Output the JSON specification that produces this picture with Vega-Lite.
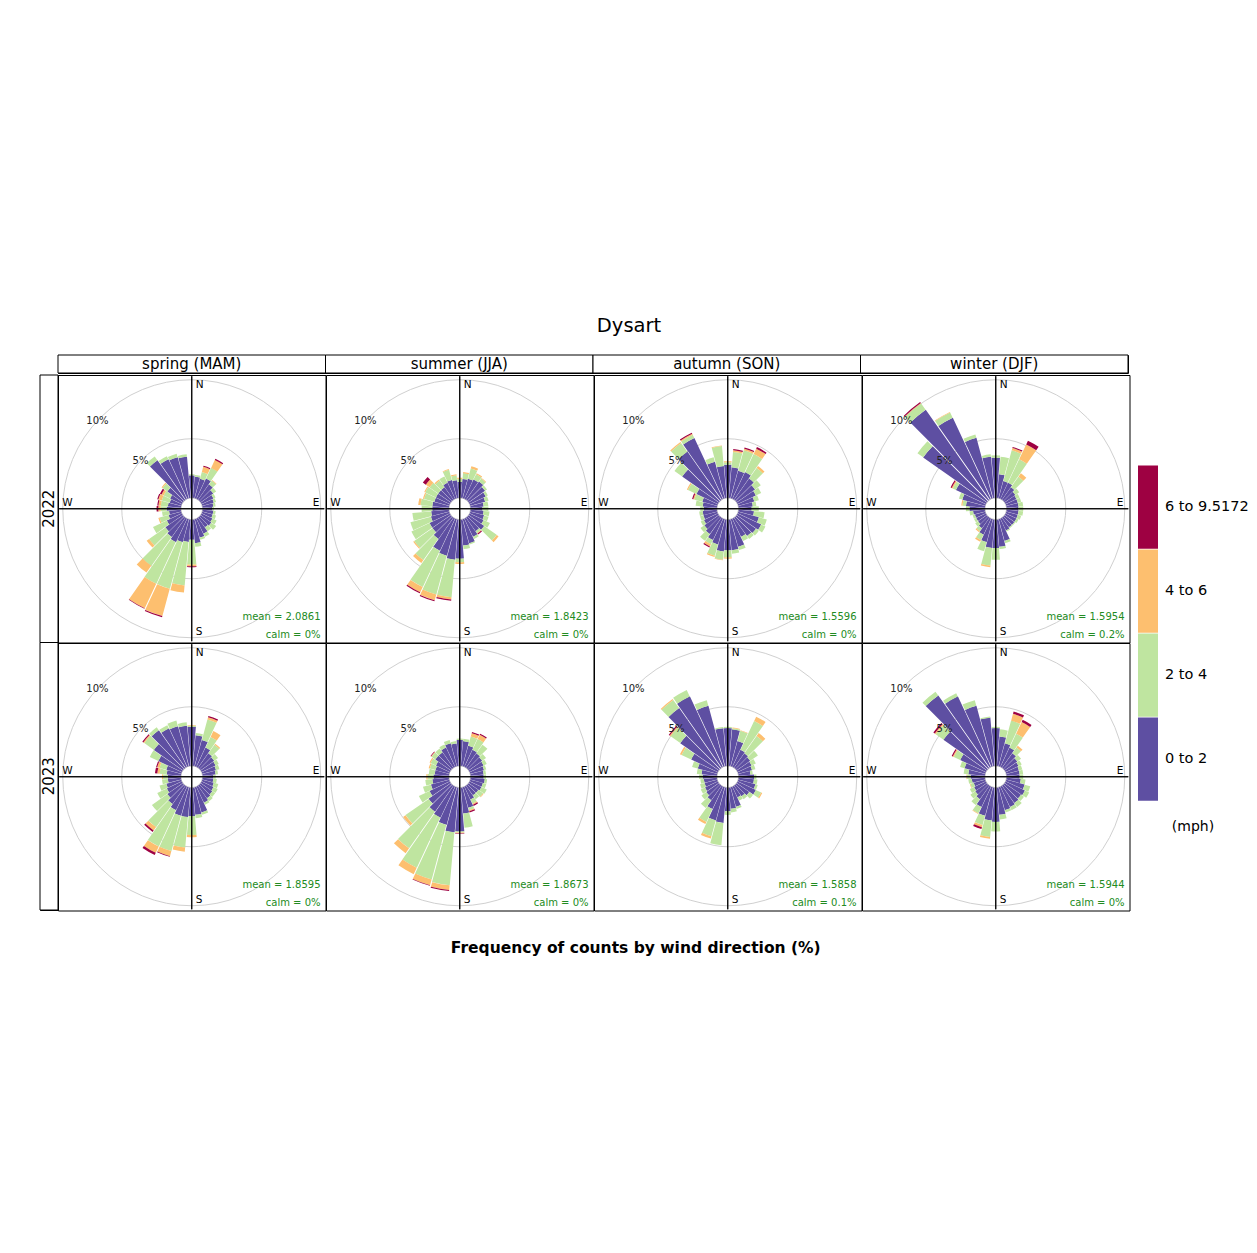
{
"$schema":"https://vega.github.io/schema/vega-lite/v6.json",
"padding":{"left":39,"top":315,"right":5,"bottom":5},
"background":"white",
"title":{"text":"Dysart","fontSize":19.5,"fontWeight":"normal","anchor":"middle","offset":18,"dx":-15,"color":"black"},
"config":{"font":"DejaVu Sans","view":{"stroke":"black","strokeWidth":1},"concat":{"spacing":0},"facet":{"spacing":0}},
"vconcat":[
{"bounds":"flush","hconcat":[
 {"width":18,"height":18,"data":{"values":[{"t":""}]},"mark":{"type":"text"},"encoding":{"text":{"field":"t"}},"view":{"stroke":null}},
 {"width":1070,"height":18,
  "data":{"values":[{"s":"spring (MAM)"},{"s":"summer (JJA)"},{"s":"autumn (SON)"},{"s":"winter (DJF)"}]},
  "layer":[
   {"mark":{"type":"rect","fill":"white","stroke":"black","strokeWidth":1},
    "encoding":{"x":{"field":"s","type":"nominal","sort":["spring (MAM)","summer (JJA)","autumn (SON)","winter (DJF)"],"axis":null,"scale":{"paddingInner":0,"paddingOuter":0}}}},
   {"mark":{"type":"text","fontSize":15,"color":"black","baseline":"middle"},
    "encoding":{"x":{"field":"s","type":"nominal","sort":["spring (MAM)","summer (JJA)","autumn (SON)","winter (DJF)"],"axis":null},"text":{"field":"s"}}}
  ]}
]},
{"bounds":"flush","hconcat":[
 {"width":18,"height":535,
  "data":{"values":[{"yr":"2022"},{"yr":"2023"}]},
  "layer":[
   {"mark":{"type":"rect","fill":"white","stroke":"black","strokeWidth":1},
    "encoding":{"y":{"field":"yr","type":"nominal","axis":null,"scale":{"paddingInner":0,"paddingOuter":0}}}},
   {"mark":{"type":"text","fontSize":15,"angle":270,"color":"black","baseline":"middle"},
    "encoding":{"y":{"field":"yr","type":"nominal","axis":null},"text":{"field":"yr"}}}
  ]},
 {"data":{"values":[
{"yr":"2022","s":"spring","mn":"mean = 2.0861","cm":"calm = 0%"},
{"yr":"2022","s":"summer","mn":"mean = 1.8423","cm":"calm = 0%"},
{"yr":"2022","s":"autumn","mn":"mean = 1.5596","cm":"calm = 0%"},
{"yr":"2022","s":"winter","mn":"mean = 1.5954","cm":"calm = 0.2%"},
{"yr":"2023","s":"spring","mn":"mean = 1.8595","cm":"calm = 0%"},
{"yr":"2023","s":"summer","mn":"mean = 1.8673","cm":"calm = 0%"},
{"yr":"2023","s":"autumn","mn":"mean = 1.5858","cm":"calm = 0.1%"},
{"yr":"2023","s":"winter","mn":"mean = 1.5944","cm":"calm = 0%"},
{"yr":"2022","s":"spring","dir":10,"a":1.8,"b":0.15,"c":0,"d":0},
{"yr":"2022","s":"spring","dir":20,"a":1.7,"b":0.6,"c":0.45,"d":0.1},
{"yr":"2022","s":"spring","dir":30,"a":1.9,"b":1.0,"c":0.75,"d":0.1},
{"yr":"2022","s":"spring","dir":40,"a":1.6,"b":0.4,"c":0.05,"d":0},
{"yr":"2022","s":"spring","dir":50,"a":1.3,"b":0.3,"c":0,"d":0},
{"yr":"2022","s":"spring","dir":60,"a":1.1,"b":0.2,"c":0,"d":0},
{"yr":"2022","s":"spring","dir":70,"a":1.0,"b":0.2,"c":0,"d":0},
{"yr":"2022","s":"spring","dir":80,"a":0.9,"b":0.2,"c":0,"d":0},
{"yr":"2022","s":"spring","dir":90,"a":0.8,"b":0.15,"c":0,"d":0},
{"yr":"2022","s":"spring","dir":100,"a":0.9,"b":0.2,"c":0,"d":0},
{"yr":"2022","s":"spring","dir":110,"a":0.9,"b":0.3,"c":0,"d":0},
{"yr":"2022","s":"spring","dir":120,"a":1.0,"b":0.4,"c":0,"d":0},
{"yr":"2022","s":"spring","dir":130,"a":1.1,"b":0.5,"c":0,"d":0},
{"yr":"2022","s":"spring","dir":140,"a":1.0,"b":0.4,"c":0,"d":0},
{"yr":"2022","s":"spring","dir":150,"a":1.4,"b":0.3,"c":0,"d":0},
{"yr":"2022","s":"spring","dir":160,"a":1.6,"b":0.2,"c":0,"d":0},
{"yr":"2022","s":"spring","dir":170,"a":2.0,"b":0.3,"c":0,"d":0},
{"yr":"2022","s":"spring","dir":180,"a":1.7,"b":2.1,"c":0.15,"d":0.08},
{"yr":"2022","s":"spring","dir":190,"a":1.9,"b":3.7,"c":0.6,"d":0},
{"yr":"2022","s":"spring","dir":200,"a":2.0,"b":4.1,"c":2.4,"d":0.1},
{"yr":"2022","s":"spring","dir":210,"a":2.2,"b":3.9,"c":2.3,"d":0.05},
{"yr":"2022","s":"spring","dir":220,"a":2.0,"b":3.0,"c":0.7,"d":0},
{"yr":"2022","s":"spring","dir":230,"a":1.8,"b":1.7,"c":0.25,"d":0},
{"yr":"2022","s":"spring","dir":240,"a":1.4,"b":1.3,"c":0,"d":0},
{"yr":"2022","s":"spring","dir":250,"a":1.1,"b":0.8,"c":0.1,"d":0},
{"yr":"2022","s":"spring","dir":260,"a":1.0,"b":0.6,"c":0,"d":0},
{"yr":"2022","s":"spring","dir":270,"a":1.2,"b":0.5,"c":0.2,"d":0.15},
{"yr":"2022","s":"spring","dir":280,"a":1.1,"b":0.6,"c":0.2,"d":0.1},
{"yr":"2022","s":"spring","dir":290,"a":1.0,"b":0.7,"c":0.3,"d":0.1},
{"yr":"2022","s":"spring","dir":300,"a":1.1,"b":0.6,"c":0.2,"d":0.15},
{"yr":"2022","s":"spring","dir":310,"a":1.6,"b":0.5,"c":0.1,"d":0},
{"yr":"2022","s":"spring","dir":320,"a":4.1,"b":0.4,"c":0,"d":0},
{"yr":"2022","s":"spring","dir":330,"a":3.7,"b":0.3,"c":0,"d":0},
{"yr":"2022","s":"spring","dir":340,"a":3.6,"b":0.3,"c":0,"d":0},
{"yr":"2022","s":"spring","dir":350,"a":3.5,"b":0.2,"c":0,"d":0},
{"yr":"2022","s":"spring","dir":360,"a":1.9,"b":0.1,"c":0,"d":0},
{"yr":"2022","s":"summer","dir":10,"a":1.6,"b":0.5,"c":0.1,"d":0},
{"yr":"2022","s":"summer","dir":20,"a":1.7,"b":0.9,"c":0.2,"d":0},
{"yr":"2022","s":"summer","dir":30,"a":1.8,"b":0.5,"c":0.1,"d":0},
{"yr":"2022","s":"summer","dir":40,"a":1.9,"b":0.3,"c":0.05,"d":0},
{"yr":"2022","s":"summer","dir":50,"a":1.7,"b":0.2,"c":0,"d":0},
{"yr":"2022","s":"summer","dir":60,"a":1.5,"b":0.2,"c":0,"d":0},
{"yr":"2022","s":"summer","dir":70,"a":1.3,"b":0.3,"c":0,"d":0},
{"yr":"2022","s":"summer","dir":80,"a":1.1,"b":0.4,"c":0,"d":0},
{"yr":"2022","s":"summer","dir":90,"a":1.0,"b":0.5,"c":0,"d":0},
{"yr":"2022","s":"summer","dir":100,"a":1.1,"b":0.5,"c":0,"d":0},
{"yr":"2022","s":"summer","dir":110,"a":1.2,"b":0.4,"c":0,"d":0},
{"yr":"2022","s":"summer","dir":120,"a":1.3,"b":0.6,"c":0,"d":0},
{"yr":"2022","s":"summer","dir":130,"a":1.6,"b":1.3,"c":0.2,"d":0},
{"yr":"2022","s":"summer","dir":140,"a":1.4,"b":0.2,"c":0.05,"d":0.1},
{"yr":"2022","s":"summer","dir":150,"a":1.7,"b":0.2,"c":0,"d":0},
{"yr":"2022","s":"summer","dir":160,"a":2.1,"b":0.1,"c":0,"d":0},
{"yr":"2022","s":"summer","dir":170,"a":2.2,"b":0.3,"c":0,"d":0},
{"yr":"2022","s":"summer","dir":180,"a":3.3,"b":0.3,"c":0.15,"d":0},
{"yr":"2022","s":"summer","dir":190,"a":3.4,"b":3.2,"c":0.2,"d":0.1},
{"yr":"2022","s":"summer","dir":200,"a":3.2,"b":3.4,"c":0.5,"d":0.1},
{"yr":"2022","s":"summer","dir":210,"a":3.0,"b":3.4,"c":0.5,"d":0.1},
{"yr":"2022","s":"summer","dir":220,"a":2.2,"b":2.2,"c":0.3,"d":0},
{"yr":"2022","s":"summer","dir":230,"a":1.9,"b":1.9,"c":0.1,"d":0},
{"yr":"2022","s":"summer","dir":240,"a":1.9,"b":1.7,"c":0,"d":0},
{"yr":"2022","s":"summer","dir":250,"a":1.6,"b":1.8,"c":0,"d":0},
{"yr":"2022","s":"summer","dir":260,"a":1.5,"b":1.6,"c":0,"d":0},
{"yr":"2022","s":"summer","dir":270,"a":1.4,"b":0.9,"c":0,"d":0},
{"yr":"2022","s":"summer","dir":280,"a":1.4,"b":1.0,"c":0.2,"d":0},
{"yr":"2022","s":"summer","dir":290,"a":1.3,"b":0.9,"c":0.1,"d":0},
{"yr":"2022","s":"summer","dir":300,"a":1.3,"b":1.0,"c":0.1,"d":0},
{"yr":"2022","s":"summer","dir":310,"a":1.3,"b":0.9,"c":0.4,"d":0.3},
{"yr":"2022","s":"summer","dir":320,"a":1.3,"b":0.7,"c":0.1,"d":0},
{"yr":"2022","s":"summer","dir":330,"a":1.5,"b":0.6,"c":0,"d":0},
{"yr":"2022","s":"summer","dir":340,"a":1.6,"b":0.9,"c":0.05,"d":0},
{"yr":"2022","s":"summer","dir":350,"a":1.5,"b":0.4,"c":0.1,"d":0},
{"yr":"2022","s":"summer","dir":360,"a":1.35,"b":0.25,"c":0.1,"d":0},
{"yr":"2022","s":"autumn","dir":10,"a":2.6,"b":1.3,"c":0.15,"d":0.1},
{"yr":"2022","s":"autumn","dir":20,"a":2.4,"b":1.8,"c":0.15,"d":0.1},
{"yr":"2022","s":"autumn","dir":30,"a":2.5,"b":1.7,"c":0.5,"d":0.15},
{"yr":"2022","s":"autumn","dir":40,"a":2.2,"b":1.1,"c":0.2,"d":0},
{"yr":"2022","s":"autumn","dir":50,"a":1.9,"b":0.6,"c":0,"d":0},
{"yr":"2022","s":"autumn","dir":60,"a":1.7,"b":0.5,"c":0,"d":0},
{"yr":"2022","s":"autumn","dir":70,"a":1.4,"b":0.4,"c":0,"d":0},
{"yr":"2022","s":"autumn","dir":80,"a":1.2,"b":0.3,"c":0,"d":0},
{"yr":"2022","s":"autumn","dir":90,"a":1.1,"b":0.6,"c":0,"d":0},
{"yr":"2022","s":"autumn","dir":100,"a":1.3,"b":0.9,"c":0,"d":0},
{"yr":"2022","s":"autumn","dir":110,"a":1.8,"b":0.7,"c":0,"d":0},
{"yr":"2022","s":"autumn","dir":120,"a":2.2,"b":0.4,"c":0,"d":0},
{"yr":"2022","s":"autumn","dir":130,"a":2.0,"b":0.3,"c":0,"d":0},
{"yr":"2022","s":"autumn","dir":140,"a":1.9,"b":0.3,"c":0,"d":0},
{"yr":"2022","s":"autumn","dir":150,"a":1.7,"b":0.4,"c":0,"d":0},
{"yr":"2022","s":"autumn","dir":160,"a":2.4,"b":0.3,"c":0,"d":0},
{"yr":"2022","s":"autumn","dir":170,"a":2.6,"b":0.3,"c":0,"d":0},
{"yr":"2022","s":"autumn","dir":180,"a":2.6,"b":0.6,"c":0.1,"d":0},
{"yr":"2022","s":"autumn","dir":190,"a":2.7,"b":0.7,"c":0.05,"d":0},
{"yr":"2022","s":"autumn","dir":200,"a":2.2,"b":1.0,"c":0.1,"d":0},
{"yr":"2022","s":"autumn","dir":210,"a":2.0,"b":0.4,"c":0.2,"d":0.1},
{"yr":"2022","s":"autumn","dir":220,"a":1.7,"b":0.7,"c":0,"d":0},
{"yr":"2022","s":"autumn","dir":230,"a":1.5,"b":0.4,"c":0,"d":0},
{"yr":"2022","s":"autumn","dir":240,"a":1.3,"b":0.3,"c":0,"d":0},
{"yr":"2022","s":"autumn","dir":250,"a":1.2,"b":0.3,"c":0,"d":0},
{"yr":"2022","s":"autumn","dir":260,"a":1.2,"b":0.3,"c":0,"d":0},
{"yr":"2022","s":"autumn","dir":270,"a":1.1,"b":0.3,"c":0,"d":0},
{"yr":"2022","s":"autumn","dir":280,"a":1.2,"b":0.6,"c":0,"d":0},
{"yr":"2022","s":"autumn","dir":290,"a":1.3,"b":0.7,"c":0.1,"d":0.1},
{"yr":"2022","s":"autumn","dir":300,"a":2.0,"b":0.8,"c":0.1,"d":0},
{"yr":"2022","s":"autumn","dir":310,"a":3.8,"b":0.8,"c":0,"d":0},
{"yr":"2022","s":"autumn","dir":320,"a":5.0,"b":0.9,"c":0.1,"d":0},
{"yr":"2022","s":"autumn","dir":330,"a":5.7,"b":0.3,"c":0.1,"d":0.1},
{"yr":"2022","s":"autumn","dir":340,"a":3.2,"b":0.4,"c":0,"d":0},
{"yr":"2022","s":"autumn","dir":350,"a":2.7,"b":1.7,"c":0.05,"d":0},
{"yr":"2022","s":"autumn","dir":360,"a":2.8,"b":0.2,"c":0.1,"d":0},
{"yr":"2022","s":"winter","dir":10,"a":2.0,"b":1.5,"c":0,"d":0},
{"yr":"2022","s":"winter","dir":20,"a":1.5,"b":2.7,"c":0.2,"d":0.1},
{"yr":"2022","s":"winter","dir":30,"a":1.5,"b":2.2,"c":1.4,"d":0.35},
{"yr":"2022","s":"winter","dir":40,"a":1.3,"b":1.1,"c":0.35,"d":0},
{"yr":"2022","s":"winter","dir":50,"a":1.1,"b":0.4,"c":0,"d":0},
{"yr":"2022","s":"winter","dir":60,"a":1.0,"b":0.3,"c":0,"d":0},
{"yr":"2022","s":"winter","dir":70,"a":1.0,"b":0.3,"c":0,"d":0},
{"yr":"2022","s":"winter","dir":80,"a":1.0,"b":0.4,"c":0,"d":0},
{"yr":"2022","s":"winter","dir":90,"a":1.0,"b":0.4,"c":0,"d":0},
{"yr":"2022","s":"winter","dir":100,"a":1.0,"b":0.4,"c":0,"d":0},
{"yr":"2022","s":"winter","dir":110,"a":1.0,"b":0.3,"c":0,"d":0},
{"yr":"2022","s":"winter","dir":120,"a":1.0,"b":0.2,"c":0,"d":0},
{"yr":"2022","s":"winter","dir":130,"a":1.0,"b":0.1,"c":0,"d":0},
{"yr":"2022","s":"winter","dir":140,"a":1.0,"b":0.1,"c":0,"d":0},
{"yr":"2022","s":"winter","dir":150,"a":1.1,"b":0.1,"c":0,"d":0},
{"yr":"2022","s":"winter","dir":160,"a":1.9,"b":0.2,"c":0,"d":0},
{"yr":"2022","s":"winter","dir":170,"a":2.3,"b":0.2,"c":0,"d":0},
{"yr":"2022","s":"winter","dir":180,"a":2.4,"b":1.0,"c":0,"d":0},
{"yr":"2022","s":"winter","dir":190,"a":2.4,"b":1.5,"c":0.15,"d":0},
{"yr":"2022","s":"winter","dir":200,"a":2.0,"b":0.8,"c":0,"d":0},
{"yr":"2022","s":"winter","dir":210,"a":1.5,"b":0.5,"c":0.15,"d":0},
{"yr":"2022","s":"winter","dir":220,"a":1.1,"b":0.3,"c":0.1,"d":0},
{"yr":"2022","s":"winter","dir":230,"a":0.9,"b":0.3,"c":0,"d":0},
{"yr":"2022","s":"winter","dir":240,"a":0.9,"b":0.2,"c":0,"d":0},
{"yr":"2022","s":"winter","dir":250,"a":0.9,"b":0.2,"c":0,"d":0},
{"yr":"2022","s":"winter","dir":260,"a":1.0,"b":0.3,"c":0,"d":0},
{"yr":"2022","s":"winter","dir":270,"a":1.3,"b":0.3,"c":0,"d":0},
{"yr":"2022","s":"winter","dir":280,"a":1.6,"b":0.3,"c":0.1,"d":0},
{"yr":"2022","s":"winter","dir":290,"a":2.0,"b":0.3,"c":0,"d":0},
{"yr":"2022","s":"winter","dir":300,"a":2.8,"b":0.3,"c":0.1,"d":0.1},
{"yr":"2022","s":"winter","dir":310,"a":6.6,"b":0.6,"c":0,"d":0},
{"yr":"2022","s":"winter","dir":320,"a":9.35,"b":0.65,"c":0.05,"d":0.1},
{"yr":"2022","s":"winter","dir":330,"a":7.6,"b":0.5,"c":0.05,"d":0},
{"yr":"2022","s":"winter","dir":340,"a":5.3,"b":0.3,"c":0,"d":0},
{"yr":"2022","s":"winter","dir":350,"a":3.5,"b":0.2,"c":0,"d":0},
{"yr":"2022","s":"winter","dir":360,"a":3.4,"b":0.2,"c":0,"d":0},
{"yr":"2023","s":"spring","dir":10,"a":2.6,"b":0.2,"c":0,"d":0},
{"yr":"2023","s":"spring","dir":20,"a":2.3,"b":1.8,"c":0.2,"d":0.1},
{"yr":"2023","s":"spring","dir":30,"a":1.8,"b":1.0,"c":0.55,"d":0},
{"yr":"2023","s":"spring","dir":40,"a":1.5,"b":0.9,"c":0.1,"d":0},
{"yr":"2023","s":"spring","dir":50,"a":1.4,"b":0.4,"c":0,"d":0},
{"yr":"2023","s":"spring","dir":60,"a":1.3,"b":0.3,"c":0,"d":0},
{"yr":"2023","s":"spring","dir":70,"a":1.2,"b":0.3,"c":0,"d":0},
{"yr":"2023","s":"spring","dir":80,"a":1.1,"b":0.2,"c":0,"d":0},
{"yr":"2023","s":"spring","dir":90,"a":0.9,"b":0.2,"c":0,"d":0},
{"yr":"2023","s":"spring","dir":100,"a":0.9,"b":0.3,"c":0,"d":0},
{"yr":"2023","s":"spring","dir":110,"a":1.0,"b":0.4,"c":0,"d":0},
{"yr":"2023","s":"spring","dir":120,"a":1.1,"b":0.4,"c":0,"d":0},
{"yr":"2023","s":"spring","dir":130,"a":1.2,"b":0.3,"c":0,"d":0},
{"yr":"2023","s":"spring","dir":140,"a":1.3,"b":0.3,"c":0,"d":0},
{"yr":"2023","s":"spring","dir":150,"a":1.5,"b":0.2,"c":0,"d":0},
{"yr":"2023","s":"spring","dir":160,"a":2.2,"b":0.2,"c":0,"d":0},
{"yr":"2023","s":"spring","dir":170,"a":2.3,"b":0.3,"c":0,"d":0},
{"yr":"2023","s":"spring","dir":180,"a":2.4,"b":1.6,"c":0.2,"d":0},
{"yr":"2023","s":"spring","dir":190,"a":2.5,"b":2.6,"c":0.35,"d":0},
{"yr":"2023","s":"spring","dir":200,"a":2.5,"b":3.1,"c":0.45,"d":0.05},
{"yr":"2023","s":"spring","dir":210,"a":2.2,"b":3.4,"c":0.6,"d":0.2},
{"yr":"2023","s":"spring","dir":220,"a":1.9,"b":2.4,"c":0.35,"d":0.15},
{"yr":"2023","s":"spring","dir":230,"a":1.6,"b":1.6,"c":0,"d":0},
{"yr":"2023","s":"spring","dir":240,"a":1.4,"b":0.9,"c":0,"d":0},
{"yr":"2023","s":"spring","dir":250,"a":1.3,"b":0.6,"c":0,"d":0},
{"yr":"2023","s":"spring","dir":260,"a":1.1,"b":0.5,"c":0,"d":0},
{"yr":"2023","s":"spring","dir":270,"a":1.1,"b":0.4,"c":0.1,"d":0},
{"yr":"2023","s":"spring","dir":280,"a":1.2,"b":0.6,"c":0.2,"d":0.2},
{"yr":"2023","s":"spring","dir":290,"a":1.3,"b":0.6,"c":0.2,"d":0.1},
{"yr":"2023","s":"spring","dir":300,"a":2.2,"b":0.8,"c":0,"d":0},
{"yr":"2023","s":"spring","dir":310,"a":3.0,"b":1.0,"c":0.1,"d":0.1},
{"yr":"2023","s":"spring","dir":320,"a":3.9,"b":0.3,"c":0,"d":0},
{"yr":"2023","s":"spring","dir":330,"a":3.6,"b":0.3,"c":0,"d":0},
{"yr":"2023","s":"spring","dir":340,"a":3.5,"b":0.5,"c":0,"d":0},
{"yr":"2023","s":"spring","dir":350,"a":3.4,"b":0.3,"c":0,"d":0},
{"yr":"2023","s":"spring","dir":360,"a":3.3,"b":0.1,"c":0.05,"d":0},
{"yr":"2023","s":"summer","dir":10,"a":2.1,"b":0.2,"c":0,"d":0},
{"yr":"2023","s":"summer","dir":20,"a":1.8,"b":0.8,"c":0.3,"d":0.1},
{"yr":"2023","s":"summer","dir":30,"a":1.6,"b":1.0,"c":0.4,"d":0.1},
{"yr":"2023","s":"summer","dir":40,"a":1.5,"b":0.9,"c":0,"d":0},
{"yr":"2023","s":"summer","dir":50,"a":1.4,"b":0.4,"c":0,"d":0},
{"yr":"2023","s":"summer","dir":60,"a":1.3,"b":0.3,"c":0,"d":0},
{"yr":"2023","s":"summer","dir":70,"a":1.2,"b":0.2,"c":0,"d":0},
{"yr":"2023","s":"summer","dir":80,"a":1.1,"b":0.2,"c":0,"d":0},
{"yr":"2023","s":"summer","dir":90,"a":1.1,"b":0.2,"c":0,"d":0},
{"yr":"2023","s":"summer","dir":100,"a":1.2,"b":0.2,"c":0,"d":0},
{"yr":"2023","s":"summer","dir":110,"a":1.1,"b":0.3,"c":0,"d":0},
{"yr":"2023","s":"summer","dir":120,"a":1.1,"b":0.5,"c":0,"d":0},
{"yr":"2023","s":"summer","dir":130,"a":1.0,"b":0.5,"c":0.05,"d":0},
{"yr":"2023","s":"summer","dir":140,"a":1.0,"b":0.4,"c":0,"d":0},
{"yr":"2023","s":"summer","dir":150,"a":1.2,"b":0.4,"c":0.1,"d":0.1},
{"yr":"2023","s":"summer","dir":160,"a":1.8,"b":0.2,"c":0.1,"d":0.1},
{"yr":"2023","s":"summer","dir":170,"a":2.2,"b":1.2,"c":0,"d":0},
{"yr":"2023","s":"summer","dir":180,"a":3.7,"b":0.1,"c":0.05,"d":0.05},
{"yr":"2023","s":"summer","dir":190,"a":3.8,"b":4.5,"c":0.4,"d":0.1},
{"yr":"2023","s":"summer","dir":200,"a":3.3,"b":4.8,"c":0.5,"d":0.05},
{"yr":"2023","s":"summer","dir":210,"a":2.9,"b":4.7,"c":0.6,"d":0},
{"yr":"2023","s":"summer","dir":220,"a":2.7,"b":3.8,"c":0.5,"d":0},
{"yr":"2023","s":"summer","dir":230,"a":2.3,"b":2.4,"c":0.25,"d":0},
{"yr":"2023","s":"summer","dir":240,"a":1.9,"b":1.0,"c":0,"d":0},
{"yr":"2023","s":"summer","dir":250,"a":1.6,"b":0.7,"c":0,"d":0},
{"yr":"2023","s":"summer","dir":260,"a":1.4,"b":0.6,"c":0,"d":0},
{"yr":"2023","s":"summer","dir":270,"a":1.3,"b":0.5,"c":0.1,"d":0},
{"yr":"2023","s":"summer","dir":280,"a":1.2,"b":0.5,"c":0,"d":0},
{"yr":"2023","s":"summer","dir":290,"a":1.2,"b":0.5,"c":0.1,"d":0},
{"yr":"2023","s":"summer","dir":300,"a":1.3,"b":0.5,"c":0.1,"d":0},
{"yr":"2023","s":"summer","dir":310,"a":1.6,"b":0.4,"c":0.05,"d":0.05},
{"yr":"2023","s":"summer","dir":320,"a":1.6,"b":0.4,"c":0,"d":0},
{"yr":"2023","s":"summer","dir":330,"a":1.8,"b":0.3,"c":0,"d":0},
{"yr":"2023","s":"summer","dir":340,"a":2.0,"b":0.3,"c":0,"d":0},
{"yr":"2023","s":"summer","dir":350,"a":1.9,"b":0.2,"c":0,"d":0},
{"yr":"2023","s":"summer","dir":360,"a":2.2,"b":0.1,"c":0,"d":0},
{"yr":"2023","s":"autumn","dir":10,"a":3.1,"b":0.1,"c":0.05,"d":0},
{"yr":"2023","s":"autumn","dir":20,"a":2.2,"b":0.9,"c":0.05,"d":0},
{"yr":"2023","s":"autumn","dir":30,"a":1.6,"b":2.7,"c":0.4,"d":0},
{"yr":"2023","s":"autumn","dir":40,"a":1.5,"b":1.8,"c":0.3,"d":0},
{"yr":"2023","s":"autumn","dir":50,"a":1.4,"b":0.8,"c":0,"d":0},
{"yr":"2023","s":"autumn","dir":60,"a":1.3,"b":0.4,"c":0,"d":0},
{"yr":"2023","s":"autumn","dir":70,"a":1.2,"b":0.3,"c":0,"d":0},
{"yr":"2023","s":"autumn","dir":80,"a":1.0,"b":0.2,"c":0,"d":0},
{"yr":"2023","s":"autumn","dir":90,"a":1.3,"b":0.2,"c":0,"d":0},
{"yr":"2023","s":"autumn","dir":100,"a":1.3,"b":0.3,"c":0,"d":0},
{"yr":"2023","s":"autumn","dir":110,"a":1.5,"b":0.2,"c":0,"d":0},
{"yr":"2023","s":"autumn","dir":120,"a":1.7,"b":0.5,"c":0.1,"d":0},
{"yr":"2023","s":"autumn","dir":130,"a":1.3,"b":0.4,"c":0,"d":0},
{"yr":"2023","s":"autumn","dir":140,"a":1.1,"b":0.3,"c":0,"d":0},
{"yr":"2023","s":"autumn","dir":150,"a":1.0,"b":0.3,"c":0,"d":0},
{"yr":"2023","s":"autumn","dir":160,"a":1.7,"b":0.2,"c":0,"d":0},
{"yr":"2023","s":"autumn","dir":170,"a":1.8,"b":0.3,"c":0,"d":0},
{"yr":"2023","s":"autumn","dir":180,"a":2.0,"b":0.3,"c":0,"d":0},
{"yr":"2023","s":"autumn","dir":190,"a":3.0,"b":1.9,"c":0,"d":0},
{"yr":"2023","s":"autumn","dir":200,"a":2.9,"b":1.4,"c":0.2,"d":0},
{"yr":"2023","s":"autumn","dir":210,"a":2.1,"b":1.2,"c":0.2,"d":0},
{"yr":"2023","s":"autumn","dir":220,"a":1.5,"b":0.8,"c":0,"d":0},
{"yr":"2023","s":"autumn","dir":230,"a":1.3,"b":0.5,"c":0,"d":0},
{"yr":"2023","s":"autumn","dir":240,"a":1.2,"b":0.4,"c":0,"d":0},
{"yr":"2023","s":"autumn","dir":250,"a":1.1,"b":0.4,"c":0,"d":0},
{"yr":"2023","s":"autumn","dir":260,"a":1.1,"b":0.3,"c":0,"d":0},
{"yr":"2023","s":"autumn","dir":270,"a":1.2,"b":0.3,"c":0,"d":0},
{"yr":"2023","s":"autumn","dir":280,"a":1.3,"b":0.4,"c":0,"d":0},
{"yr":"2023","s":"autumn","dir":290,"a":1.7,"b":0.5,"c":0,"d":0},
{"yr":"2023","s":"autumn","dir":300,"a":2.5,"b":0.9,"c":0.15,"d":0},
{"yr":"2023","s":"autumn","dir":310,"a":4.0,"b":1.0,"c":0.1,"d":0.1},
{"yr":"2023","s":"autumn","dir":320,"a":6.2,"b":0.85,"c":0.1,"d":0},
{"yr":"2023","s":"autumn","dir":330,"a":6.6,"b":0.6,"c":0,"d":0},
{"yr":"2023","s":"autumn","dir":340,"a":5.3,"b":0.5,"c":0,"d":0},
{"yr":"2023","s":"autumn","dir":350,"a":3.2,"b":0.1,"c":0,"d":0},
{"yr":"2023","s":"autumn","dir":360,"a":3.2,"b":0.1,"c":0,"d":0},
{"yr":"2023","s":"winter","dir":10,"a":2.5,"b":0.6,"c":0,"d":0},
{"yr":"2023","s":"winter","dir":20,"a":2.0,"b":2.0,"c":0.6,"d":0.2},
{"yr":"2023","s":"winter","dir":30,"a":1.8,"b":1.3,"c":1.1,"d":0.2},
{"yr":"2023","s":"winter","dir":40,"a":1.5,"b":0.6,"c":0.2,"d":0},
{"yr":"2023","s":"winter","dir":50,"a":1.3,"b":0.4,"c":0,"d":0},
{"yr":"2023","s":"winter","dir":60,"a":1.2,"b":0.3,"c":0,"d":0},
{"yr":"2023","s":"winter","dir":70,"a":1.1,"b":0.3,"c":0,"d":0},
{"yr":"2023","s":"winter","dir":80,"a":1.1,"b":0.3,"c":0,"d":0},
{"yr":"2023","s":"winter","dir":90,"a":1.1,"b":0.3,"c":0,"d":0},
{"yr":"2023","s":"winter","dir":100,"a":1.2,"b":0.4,"c":0,"d":0},
{"yr":"2023","s":"winter","dir":110,"a":1.6,"b":0.5,"c":0,"d":0},
{"yr":"2023","s":"winter","dir":120,"a":1.8,"b":0.4,"c":0,"d":0},
{"yr":"2023","s":"winter","dir":130,"a":1.7,"b":0.3,"c":0,"d":0},
{"yr":"2023","s":"winter","dir":140,"a":1.8,"b":0.4,"c":0,"d":0},
{"yr":"2023","s":"winter","dir":150,"a":1.9,"b":0.3,"c":0,"d":0},
{"yr":"2023","s":"winter","dir":160,"a":2.0,"b":0.2,"c":0,"d":0},
{"yr":"2023","s":"winter","dir":170,"a":2.3,"b":0.4,"c":0,"d":0},
{"yr":"2023","s":"winter","dir":180,"a":2.9,"b":0.8,"c":0,"d":0},
{"yr":"2023","s":"winter","dir":190,"a":2.8,"b":1.4,"c":0.15,"d":0},
{"yr":"2023","s":"winter","dir":200,"a":2.5,"b":0.8,"c":0.2,"d":0.15},
{"yr":"2023","s":"winter","dir":210,"a":1.9,"b":0.6,"c":0.05,"d":0},
{"yr":"2023","s":"winter","dir":220,"a":1.4,"b":0.6,"c":0,"d":0},
{"yr":"2023","s":"winter","dir":230,"a":1.2,"b":0.5,"c":0,"d":0},
{"yr":"2023","s":"winter","dir":240,"a":1.1,"b":0.4,"c":0,"d":0},
{"yr":"2023","s":"winter","dir":250,"a":1.0,"b":0.3,"c":0.05,"d":0},
{"yr":"2023","s":"winter","dir":260,"a":1.1,"b":0.3,"c":0,"d":0},
{"yr":"2023","s":"winter","dir":270,"a":1.2,"b":0.3,"c":0.05,"d":0},
{"yr":"2023","s":"winter","dir":280,"a":1.4,"b":0.4,"c":0,"d":0},
{"yr":"2023","s":"winter","dir":290,"a":1.8,"b":0.4,"c":0,"d":0},
{"yr":"2023","s":"winter","dir":300,"a":2.4,"b":0.6,"c":0.1,"d":0.1},
{"yr":"2023","s":"winter","dir":310,"a":4.5,"b":0.8,"c":0.1,"d":0.15},
{"yr":"2023","s":"winter","dir":320,"a":7.5,"b":0.4,"c":0,"d":0},
{"yr":"2023","s":"winter","dir":330,"a":6.6,"b":0.3,"c":0,"d":0},
{"yr":"2023","s":"winter","dir":340,"a":5.3,"b":0.5,"c":0,"d":0},
{"yr":"2023","s":"winter","dir":350,"a":4.1,"b":0.1,"c":0,"d":0},
{"yr":"2023","s":"winter","dir":360,"a":3.2,"b":0.1,"c":0,"d":0}
 ]},
 "facet":{"row":{"field":"yr","header":null},"column":{"field":"s","sort":["spring","summer","autumn","winter"],"header":null}},
 "spacing":0,
 "bounds":"flush",
 "title":{"text":"Frequency of counts by wind direction (%)","orient":"bottom","fontSize":15.5,"fontWeight":"bold","offset":30,"dx":42,"anchor":"middle","color":"black"},
 "spec":{"width":267.5,"height":267.5,"layer":[
  {"transform":[{"filter":"datum.dir==360"}],
   "mark":{"type":"arc","filled":false,"stroke":"#d0d0d0","strokeWidth":1,"theta":0,"theta2":6.2832},
   "encoding":{"radius":{"datum":5,"type":"quantitative","scale":{"type":"linear","domain":[0,10],"range":[11,129],"zero":false,"nice":false}}}},
  {"transform":[{"filter":"datum.dir==360"}],
   "mark":{"type":"arc","filled":false,"stroke":"#d0d0d0","strokeWidth":1,"theta":0,"theta2":6.2832},
   "encoding":{"radius":{"datum":10,"type":"quantitative"}}},
  {"transform":[
     {"filter":"isValid(datum.dir)"},
     {"fold":["a","b","c","d"],"as":["k","v"]},
     {"stack":"v","groupby":["yr","s","dir"],"sort":[{"field":"k","order":"ascending"}],"as":["r0","r1"]},
     {"filter":"datum.v > 0"},
     {"bin":{"step":10,"extent":[5,365],"nice":false},"field":"dir","as":["t0","t1"]}
   ],
   "mark":{"type":"arc","padAngle":0.008},
   "encoding":{
     "theta":{"field":"t0","type":"quantitative","stack":null,"scale":{"domain":[0,360],"range":[0,6.283185]}},
     "theta2":{"field":"t1"},
     "radius":{"field":"r1","type":"quantitative"},
     "radius2":{"field":"r0"},
     "color":{"field":"k","type":"nominal",
       "scale":{"domain":["d","c","b","a"],"range":["#9E0142","#FDBF6F","#BFE5A0","#5E4FA2"]},
       "legend":{"orient":"none","legendX":1098,"legendY":142,"title":"(mph)","titleOrient":"bottom","titleAnchor":"middle","titleFontSize":14,"titleFontWeight":"normal","titlePadding":19,"titleColor":"black",
         "labelFontSize":14.5,"labelColor":"black","labelOffset":7,"symbolType":"M-1,-4.1625H1V4.1625H-1Z","symbolSize":400,"symbolStrokeWidth":0,"symbolOpacity":1,"rowPadding":0,
         "labelExpr":"datum.label=='a'?'0 to 2':datum.label=='b'?'2 to 4':datum.label=='c'?'4 to 6':'6 to 9.5172'"}}}},
  {"transform":[{"filter":"isValid(datum.dir) && datum.dir % 90 == 0"}],
   "mark":{"type":"arc","filled":false,"stroke":"black","strokeWidth":1,"strokeJoin":"bevel","strokeCap":"butt"},
   "encoding":{"theta":{"field":"dir","type":"quantitative","stack":null},"theta2":{"field":"dir"},"radius":{"datum":10.3,"type":"quantitative"},"radius2":{"value":0}}},
  {"transform":[{"filter":"datum.dir==360 || datum.dir==180"}],
   "mark":{"type":"text","align":"left","baseline":"middle","dx":4,"fontSize":10.5,"color":"black"},
   "encoding":{"theta":{"field":"dir","type":"quantitative","stack":null},"radius":{"datum":9.55,"type":"quantitative"},"text":{"condition":{"test":"datum.dir==360","value":"N"},"value":"S"}}},
  {"transform":[{"filter":"datum.dir==90 || datum.dir==270"}],
   "mark":{"type":"text","align":"center","baseline":"bottom","dy":-1,"fontSize":10.5,"color":"black"},
   "encoding":{"theta":{"field":"dir","type":"quantitative","stack":null},"radius":{"datum":9.6,"type":"quantitative"},"text":{"condition":{"test":"datum.dir==90","value":"E"},"value":"W"}}},
  {"transform":[{"filter":"datum.dir==360"}],
   "mark":{"type":"text","align":"center","baseline":"middle","fontSize":10,"color":"#222"},
   "encoding":{"theta":{"datum":313,"type":"quantitative"},"radius":{"datum":10,"type":"quantitative"},"text":{"value":"10%"}}},
  {"transform":[{"filter":"datum.dir==360"}],
   "mark":{"type":"text","align":"center","baseline":"middle","fontSize":10,"color":"#222"},
   "encoding":{"theta":{"datum":313,"type":"quantitative"},"radius":{"datum":5,"type":"quantitative"},"text":{"value":"5%"}}},
  {"transform":[{"filter":"isValid(datum.mn)"}],
   "mark":{"type":"text","align":"right","baseline":"middle","dx":-5,"dy":-26,"fontSize":10,"color":"forestgreen"},
   "encoding":{"x":{"value":"width"},"y":{"value":"height"},"text":{"field":"mn"}}},
  {"transform":[{"filter":"isValid(datum.mn)"}],
   "mark":{"type":"text","align":"right","baseline":"middle","dx":-5,"dy":-8,"fontSize":10,"color":"forestgreen"},
   "encoding":{"x":{"value":"width"},"y":{"value":"height"},"text":{"field":"cm"}}}
 ]}}
]}
]}
